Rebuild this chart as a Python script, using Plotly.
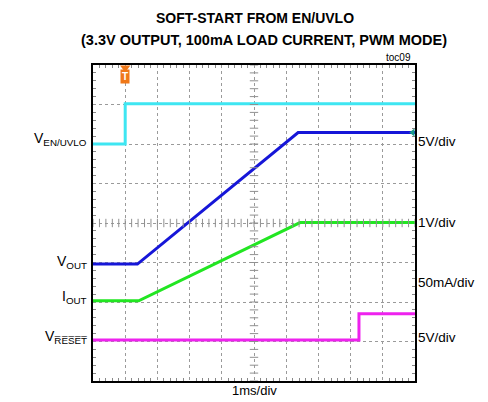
import numpy as np
import plotly.graph_objects as go

# ---- data (time in ms = divisions, amplitude in screen divisions) ----
en_t = [0, 1.0, 1.0, 10]
en_v = [6.0, 6.0, 7.02, 7.02]
vout_t = [0, 1.38, 6.37, 10]
vout_v = [2.96, 2.96, 6.29, 6.29]
iout_t = [0, 1.42, 6.43, 10]
iout_v = [2.03, 2.03, 4.01, 4.01]
reset_t = [0, 8.26, 8.26, 10]
reset_v = [1.04, 1.04, 1.70, 1.70]

title1 = "SOFT-START FROM EN/UVLO"
title2 = "(3.3V OUTPUT, 100mA LOAD CURRENT, PWM MODE)"
left_labels = ["V<sub>EN/UVLO</sub>", "V<sub>OUT</sub>", "I<sub>OUT</sub>", "V<sub>R\u0305E\u0305S\u0305E\u0305T\u0305</sub>"]
left_label_y = [6.12, 3.02, 2.12, 1.12]
right_labels = ["5V/div", "1V/div", "50mA/div", "5V/div"]
right_label_y = [6.07, 4.02, 2.5, 1.1]
xlabel = "1ms/div"

W, H = 488, 402
L, R, T, B = 93, 73, 65, 21
FONT = "Liberation Sans, Arial, sans-serif"

fig = go.Figure()

colors = ["#3ee6f2", "#1616d8", "#22e622", "#ee22ee"]
for t, v, c in zip([en_t, vout_t, iout_t, reset_t], [en_v, vout_v, iout_v, reset_v], colors):
    fig.add_trace(go.Scatter(x=t, y=v, mode="lines", line=dict(color=c, width=3),
                             hoverinfo="skip", showlegend=False))

# minor ticks on the center cross
mt = np.arange(0, 10.001, 0.2)
fig.add_trace(go.Scatter(x=mt, y=np.full_like(mt, 4.0), mode="markers",
                         marker=dict(symbol="line-ns", size=6, line=dict(color="#909090", width=1)),
                         hoverinfo="skip", showlegend=False))
mv = np.arange(0, 8.001, 0.2)
fig.add_trace(go.Scatter(x=np.full_like(mv, 5.0), y=mv, mode="markers",
                         marker=dict(symbol="line-ew", size=6, line=dict(color="#909090", width=1)),
                         hoverinfo="skip", showlegend=False))

# trigger marker
fig.add_trace(go.Scatter(x=[1.0], y=[7.93], mode="markers",
                         marker=dict(symbol="triangle-down", size=9, color="#f07818"),
                         cliponaxis=False, hoverinfo="skip", showlegend=False))
fig.add_annotation(x=1.0, y=7.72, xref="x", yref="y", text="<b>T</b>", showarrow=False,
                   bgcolor="#f07818", font=dict(color="white", size=10, family=FONT),
                   borderpad=1)
# ground marker for VOUT
fig.add_trace(go.Scatter(x=[9.93], y=[vout_v[-1]], mode="markers",
                         marker=dict(symbol="triangle-left", size=7, color="#1a9a8a"),
                         cliponaxis=False, hoverinfo="skip", showlegend=False))

def px(x):
    return (x - L) / (W - L - R)

def py(y):
    return (H - B - y) / (H - T - B)

def ann(x, y, text, size, xanchor="center", bold=False):
    fig.add_annotation(x=px(x), y=py(y), xref="paper", yref="paper",
                       text=("<b>" + text + "</b>") if bold else text,
                       xanchor=xanchor, yanchor="middle", showarrow=False,
                       font=dict(size=size, family=FONT, color="black"))

ann(255, 18, title1, 14, bold=True)
ann(264, 40, title2, 14.5, bold=True)
ann(413, 57, "toc09", 10, xanchor="right")
ann(254, 390, xlabel, 13)

for txt, yv in zip(left_labels, left_label_y):
    fig.add_annotation(x=px(89), y=yv, xref="paper", yref="y", text=txt, xanchor="right",
                       yanchor="middle", showarrow=False,
                       font=dict(size=14, family=FONT, color="black"))
for txt, yv in zip(right_labels, right_label_y):
    fig.add_annotation(x=px(416), y=yv, xref="paper", yref="y", text=txt, xanchor="left",
                       yanchor="middle", showarrow=False,
                       font=dict(size=13.5, family=FONT, color="black"))

axis_common = dict(showgrid=True, gridcolor="#9a9a9a", griddash="dot", gridwidth=1,
                   zeroline=False, showticklabels=False, showline=True, linecolor="black",
                   linewidth=2, mirror="allticks", ticks="inside", ticklen=0, tickcolor="#888")
fig.update_xaxes(range=[0, 10], dtick=1, tick0=0,
                 minor=dict(dtick=0.2, ticks="inside", ticklen=3, tickcolor="#888", showgrid=False),
                 **axis_common)
fig.update_yaxes(range=[0, 8], dtick=1, tick0=0,
                 minor=dict(dtick=0.2, ticks="inside", ticklen=3, tickcolor="#888", showgrid=False),
                 **axis_common)

fig.update_layout(width=W, height=H, margin=dict(l=L, r=R, t=T, b=B),
                  paper_bgcolor="white", plot_bgcolor="white", showlegend=False)

fig.write_html("out.html", config={"displayModeBar": False},
               post_script="document.body.style.margin='0';")
